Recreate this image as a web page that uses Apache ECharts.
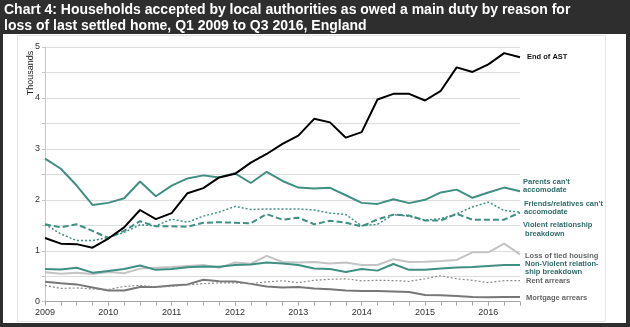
<!DOCTYPE html>
<html><head><meta charset="utf-8">
<script src="https://cdn.jsdelivr.net/npm/echarts@6/dist/echarts.min.js"></script>
<style>html,body{margin:0;padding:0;background:#2e2e2e}#c{width:630px;height:327px}</style>
</head><body><div id="c"></div>
<script>
const quarters = [];
const tickLabels = ['2009','2010','2011','2012','2013','2014','2015','2016'];
tickLabels.forEach(y => ['Q1','Q2','Q3','Q4'].forEach(q => quarters.push(y + ' ' + q)));
const categories = quarters.slice(0, 31);

const endOfAST = [1.25,1.14,1.13,1.06,1.24,1.46,1.80,1.62,1.74,2.13,2.23,2.44,2.51,2.73,2.90,3.10,3.26,3.59,3.52,3.22,3.33,3.97,4.08,4.08,3.95,4.14,4.60,4.51,4.66,4.88,4.80];
const parents = [2.81,2.61,2.28,1.90,1.94,2.03,2.36,2.07,2.28,2.42,2.48,2.44,2.52,2.33,2.55,2.37,2.24,2.22,2.235,2.09,1.94,1.92,2.01,1.935,2.00,2.145,2.20,2.04,2.145,2.24,2.17];
const friends = [1.52,1.33,1.20,1.20,1.26,1.36,1.51,1.49,1.62,1.56,1.68,1.76,1.87,1.81,1.82,1.82,1.82,1.80,1.74,1.71,1.49,1.52,1.71,1.68,1.60,1.63,1.725,1.86,1.955,1.79,1.76];
const violent = [1.52,1.46,1.52,1.39,1.25,1.39,1.58,1.48,1.48,1.47,1.55,1.56,1.55,1.54,1.72,1.61,1.65,1.52,1.59,1.55,1.48,1.615,1.71,1.69,1.595,1.595,1.725,1.61,1.61,1.61,1.75];
const tiedHousing = [0.58,0.55,0.57,0.545,0.585,0.56,0.65,0.665,0.68,0.70,0.72,0.665,0.77,0.745,0.90,0.78,0.77,0.78,0.75,0.77,0.72,0.72,0.835,0.78,0.785,0.80,0.82,0.97,0.97,1.14,0.93];
const nonViolent = [0.64,0.63,0.665,0.57,0.605,0.64,0.71,0.625,0.64,0.675,0.69,0.685,0.72,0.73,0.77,0.75,0.72,0.65,0.64,0.585,0.64,0.61,0.74,0.625,0.625,0.65,0.67,0.68,0.70,0.72,0.72];
const rentArrears = [0.32,0.26,0.27,0.25,0.24,0.30,0.32,0.29,0.30,0.33,0.355,0.37,0.37,0.355,0.39,0.41,0.375,0.42,0.44,0.45,0.41,0.42,0.415,0.40,0.45,0.51,0.45,0.42,0.375,0.415,0.415];
const mortgageArrears = [0.39,0.36,0.34,0.28,0.22,0.22,0.29,0.29,0.32,0.34,0.43,0.40,0.395,0.35,0.30,0.28,0.29,0.26,0.245,0.22,0.21,0.21,0.20,0.19,0.13,0.125,0.11,0.09,0.085,0.09,0.09];

const TEAL = '#3f8f82', TEALTXT = '#2f6b68';
function s(name, data, color, width, type, label, txtColor, offset) {
  return {
    name, type: 'line', data, symbol: 'none', animation: false,
    lineStyle: { color, width, type },
    endLabel: { show: true, formatter: label, color: txtColor, fontSize: 7.5, fontWeight: 'bold',
      fontFamily: 'Liberation Sans, Arial', lineHeight: 8.3, offset, distance: 2 }
  };
}
const chart = echarts.init(document.getElementById('c'));
chart.setOption({
  backgroundColor: '#2e2e2e',
  animation: false,
  title: {
    text: 'Chart 4: Households accepted by local authorities as owed a main duty by reason for\nloss of last settled home, Q1 2009 to Q3 2016, England',
    left: 4, top: 2, padding: 0,
    textStyle: { color: '#fff', fontSize: 14, fontWeight: 'bold', fontFamily: 'Liberation Sans, Arial', lineHeight: 16 }
  },
  graphic: [
    { type: 'rect', shape: { x: 3, y: 34, width: 623, height: 289 }, style: { fill: '#ffffff' }, z: -10 },
    { type: 'rect', shape: { x: 17.5, y: 35.5, width: 588, height: 286 }, style: { fill: 'none', stroke: '#e4e4e4', lineWidth: 1 }, z: -9 },
    { type: 'text', x: 31, y: 73, rotation: Math.PI / 2,
      style: { text: 'Thousands', fill: '#222', font: '9px Liberation Sans, Arial', textAlign: 'center', textVerticalAlign: 'middle' } }
  ],
  grid: { left: 45, right: 110, top: 47, bottom: 25.3, containLabel: false },
  xAxis: {
    type: 'category', data: categories, boundaryGap: false,
    axisLine: { lineStyle: { color: '#a6a6a6' } },
    axisTick: { interval: 0, length: 4, lineStyle: { color: '#a6a6a6' } },
    axisLabel: { interval: 3, color: '#333', fontSize: 9, margin: 6, fontFamily: 'Liberation Sans, Arial',
      formatter: v => v.slice(0, 4) },
    splitLine: { show: false }
  },
  yAxis: {
    type: 'value', min: 0, max: 5, interval: 0.5,
    axisLine: { show: true, lineStyle: { color: '#c8c8c8' } },
    axisTick: { show: true, length: 3, lineStyle: { color: '#c8c8c8' } },
    axisLabel: { color: '#333', fontSize: 9, margin: 5, fontFamily: 'Liberation Sans, Arial',
      formatter: v => (Number.isInteger(v) ? String(v) : '') },
    splitLine: { lineStyle: { color: '#dcdcdc', width: 1 } }
  },
  series: [
    s('Mortgage arrears', mortgageArrears, '#777777', 2, 'solid', 'Mortgage arrears', '#666', [4, 1]),
    s('Rent arrears', rentArrears, '#8a8a8a', 1.2, [2, 2], 'Rent arrears', '#666', [4, 0]),
    s('Loss of tied housing', tiedHousing, '#c4c4c4', 2, 'solid', 'Loss of tied housing', '#666', [3, 2]),
    s('Non-Violent relationship breakdown', nonViolent, TEAL, 2, 'solid', 'Non-Violent relation-\nship breakdown', TEALTXT, [3, 3]),
    s('Violent relationship breakdown', violent, TEAL, 2, [6, 3], 'Violent relationship\n breakdown', TEALTXT, [1, 17]),
    s("Friends/relatives can't accomodate", friends, TEAL, 1.5, [2, 2], "Friends/relatives can't\naccomodate", TEALTXT, [2, -4]),
    s("Parents can't accomodate", parents, TEAL, 2, 'solid', "Parents can't\naccomodate", TEALTXT, [1, -5]),
    s('End of AST', endOfAST, '#000000', 2, 'solid', 'End of AST', '#111', [5, 0])
  ]
});
</script></body></html>
